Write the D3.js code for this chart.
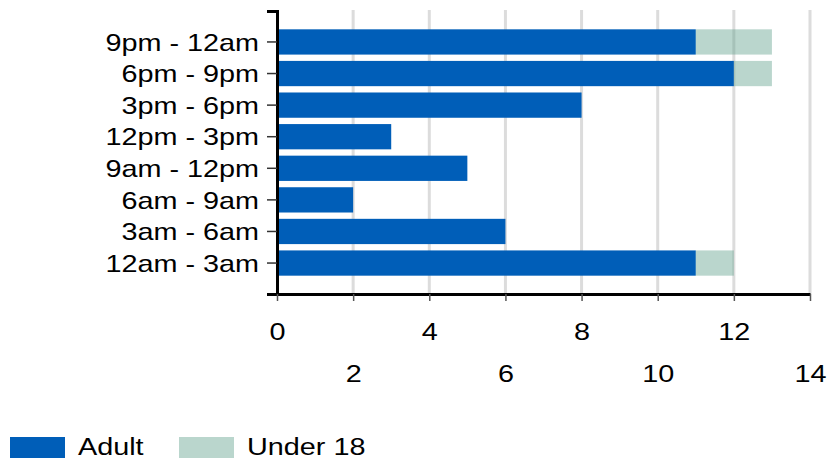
<!DOCTYPE html>
<html>
<head>
<meta charset="utf-8">
<script src="https://cdn.jsdelivr.net/npm/d3@7"></script>
<style>
  body { margin: 0; background: #fff; }
  text { font-family: "Liberation Sans", Arial, sans-serif; fill: #000; }
</style>
</head>
<body>
<div id="chart"></div>
<script>
// data, bottom to top as in the picture
const periods = ["12am - 3am", "3am - 6am", "6am - 9am", "9am - 12pm",
                 "12pm - 3pm", "3pm - 6pm", "6pm - 9pm", "9pm - 12am"]
const adult   = [11, 6, 2, 5, 3, 8, 12, 11]
const under18 = [1, 0, 0, 0, 0, 0, 1, 2]
const series_names = ["Adult", "Under 18"]
const x_ticks = [0, 2, 4, 6, 8, 10, 12, 14]

const width = 835, height = 459
const stretch = 1.2   // text in the picture is drawn wide

const svg = d3.select("#chart").append("svg")
  .attr("width", width).attr("height", height)

const x = d3.scaleLinear().domain([0, 14]).range([277, 810])
const y = d3.scaleBand()
  .domain(periods.slice().reverse())
  .range([11, 294])
  .paddingInner(0.2)
  .paddingOuter(0.58)

// grid
svg.append("g").selectAll("line")
  .data(x_ticks.slice(1))
  .join("line")
  .attr("x1", d => x(d)).attr("x2", d => x(d))
  .attr("y1", 10).attr("y2", 294)
  .attr("stroke", "#dcdcdc").attr("stroke-width", 3)

// stacked bars
const rows = periods.map((p, i) => ({period: p, adult: adult[i], under18: under18[i]}))
const stack = d3.stack().keys(["adult", "under18"])(rows)
const colors = {adult: "#005eb8", under18: "#5e9f8a"}
const opac = {adult: 1, under18: 0.43}

svg.append("g").selectAll("g")
  .data(stack)
  .join("g")
  .attr("fill", d => colors[d.key])
  .attr("fill-opacity", d => opac[d.key])
  .selectAll("rect")
  .data(d => d.filter(v => v[1] > v[0]))
  .join("rect")
  .attr("x", d => x(d[0]))
  .attr("width", d => x(d[1]) - x(d[0]))
  .attr("y", d => y(d.data.period))
  .attr("height", y.bandwidth())

// y axis
const yAxis = svg.append("g")
  .attr("transform", "translate(277,0)")
  .call(d3.axisLeft(y).tickSize(10).tickSizeOuter(10).tickPadding(0))
yAxis.select(".domain").attr("stroke", "#000").attr("stroke-width", 3)
yAxis.selectAll(".tick line").attr("stroke", "#333").attr("stroke-width", 1.5)
yAxis.selectAll(".tick text")
  .attr("x", -18 / stretch)
  .attr("dy", "0.36em")
  .attr("transform", `scale(${stretch},1)`)
  .style("font-size", "24px")
  .style("font-family", "'Liberation Sans', Arial, sans-serif")

// x axis
const xAxis = svg.append("g")
  .attr("transform", "translate(0,294)")
  .call(d3.axisBottom(x).tickValues(x_ticks).tickSize(7).tickSizeOuter(0).tickFormat(d3.format("d")))
xAxis.select(".domain").attr("stroke", "#000").attr("stroke-width", 3)
xAxis.selectAll(".tick line").attr("stroke", "#555").attr("stroke-width", 1.5)
xAxis.selectAll(".tick text")
  .attr("y", (d, i) => i % 2 === 0 ? 46 : 88)
  .attr("dy", 0)
  .attr("transform", `scale(${stretch},1)`)
  .style("font-size", "24px")
  .style("font-family", "'Liberation Sans', Arial, sans-serif")

// legend
const legend = svg.append("g").selectAll("g")
  .data(series_names)
  .join("g")
  .attr("transform", (d, i) => `translate(${[10, 179][i]},437)`)
legend.append("rect")
  .attr("width", 55).attr("height", 21)
  .attr("fill", (d, i) => i === 0 ? colors.adult : colors.under18)
  .attr("fill-opacity", (d, i) => i === 0 ? 1 : 0.43)
legend.append("text")
  .attr("x", 68 / stretch).attr("y", 18)
  .attr("transform", `scale(${stretch},1)`)
  .style("font-size", "24px")
  .text(d => d)
</script>
</body>
</html>
